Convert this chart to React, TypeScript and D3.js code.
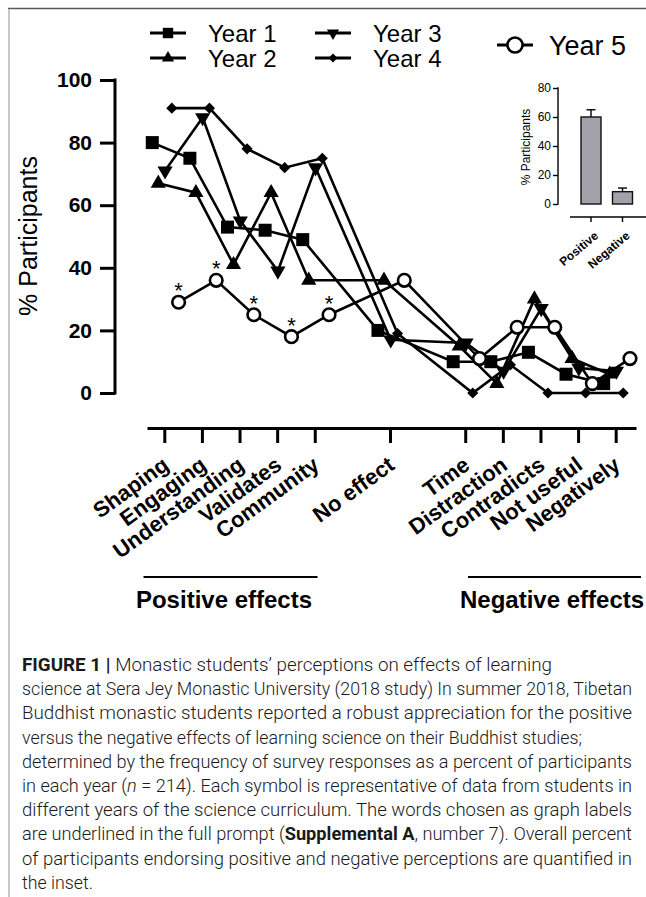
import { useRef, useEffect } from "react"
import * as d3 from "d3"

// x slots of the main chart, null = empty gap on the axis
const slots = ["Shaping", "Engaging", "Understanding", "Validates", "Community", null, "No effect", null, "Time", "Distraction", "Contradicts", "Not useful", "Negatively"]
const categories = slots.filter((s) => s !== null) as string[]
const starred = ["Shaping", "Engaging", "Understanding", "Validates", "Community"]

// % participants per category, one array per year
const year1 = [80, 75, 53, 52, 49, 20, 10, 10, 13, 6, 3]
const year2 = [67, 64, 41, 64, 36, 36, 15, 3, 30, 11, 6]
const year3 = [71, 88, 55, 39, 72, 17, 16, 7, 27, 8, 7]
const year4 = [91, 91, 78, 72, 75, 19, 0, 9, 0, 0, 0]
const year5 = [29, 36, 25, 18, 25, 36, 11, 21, 21, 3, 11]

const yTicks = [0, 20, 40, 60, 80, 100]

// inset
const insetCats = ["Positive", "Negative"]
const insetMeans = [60, 8.5]
const insetErrors = [5, 2.5]
const insetTicks = [0, 20, 40, 60, 80]

const caption = [
  [{ t: "FIGURE 1 | ", b: true }, { t: "Monastic students’ perceptions on effects of learning" }],
  [{ t: "science at Sera Jey Monastic University (2018 study) In summer 2018, Tibetan" }],
  [{ t: "Buddhist monastic students reported a robust appreciation for the positive" }],
  [{ t: "versus the negative effects of learning science on their Buddhist studies;" }],
  [{ t: "determined by the frequency of survey responses as a percent of participants" }],
  [{ t: "in each year (" }, { t: "n", i: true }, { t: " = 214). Each symbol is representative of data from students in" }],
  [{ t: "different years of the science curriculum. The words chosen as graph labels" }],
  [{ t: "are underlined in the full prompt (" }, { t: "Supplemental A", b: true }, { t: ", number 7). Overall percent" }],
  [{ t: "of participants endorsing positive and negative perceptions are quantified in" }],
  [{ t: "the inset." }],
]
const captionWidths = [530, 610, 610, 560, 610, 610, 610, 610, 610, 71]

const FONT = "'Liberation Sans', Arial, Helvetica, sans-serif"

export default function App() {
  const svgRef = useRef<SVGSVGElement>(null)

  useEffect(() => {
    if (!svgRef.current) return
    const svg = d3.select(svgRef.current)
    svg.selectAll("*").remove()

    const series = [
      { name: "Year 1", values: year1, kind: "square", off: -0.32 },
      { name: "Year 2", values: year2, kind: "up", off: -0.16 },
      { name: "Year 3", values: year3, kind: "down", off: 0.02 },
      { name: "Year 4", values: year4, kind: "diamond", off: 0.2 },
      { name: "Year 5", values: year5, kind: "circle", off: 0.38 },
    ]

    const slotOf = categories.map((c) => slots.indexOf(c))
    const x = d3.scaleLinear().domain([-0.46, 12.54]).range([147, 636])
    const y = d3.scaleLinear().domain([0, 100]).range([393, 80])

    // frame of the figure
    svg.append("line").attr("x1", 8).attr("x2", 646).attr("y1", 8.5).attr("y2", 8.5).attr("stroke", "#5a5a5a").attr("stroke-width", 1.5)
    svg.append("line").attr("x1", 9).attr("x2", 9).attr("y1", 9).attr("y2", 897).attr("stroke", "#b4b4b4").attr("stroke-width", 1.5)

    // marker drawing
    function drawMarker(g: any, kind: string, cx: number, cy: number, k = 1) {
      if (kind === "circle") {
        g.append("circle").attr("cx", cx).attr("cy", cy).attr("r", 6.3 * k)
          .attr("fill", "white").attr("stroke", "black").attr("stroke-width", 2.6)
        return
      }
      let type: any = d3.symbolSquare
      let size = 169
      let rot = 0
      if (kind === "up") { type = d3.symbolTriangle; size = 100 }
      if (kind === "down") { type = d3.symbolTriangle; size = 100; rot = 180 }
      if (kind === "diamond") { type = d3.symbolSquare; size = 62; rot = 45 }
      g.append("path")
        .attr("d", d3.symbol().type(type).size(size * k * k)())
        .attr("transform", `translate(${cx},${cy}) rotate(${rot})`)
        .attr("fill", "black")
    }

    // y axis
    const yAxis = svg.append("g").attr("transform", "translate(115,0)")
      .call(d3.axisLeft(y).tickValues(yTicks).tickSize(15).tickSizeOuter(0).tickPadding(8))
    yAxis.select(".domain").attr("stroke-width", 3).attr("d", `M0,${y(100) - 1.5}V${y(0) + 1.5}`)
    yAxis.selectAll(".tick line").attr("stroke-width", 3)
    yAxis.selectAll(".tick text").attr("font-family", FONT).attr("font-weight", "bold").attr("font-size", 21).attr("fill", "black")

    svg.append("text")
      .attr("transform", `translate(37, 236) rotate(-90)`)
      .attr("text-anchor", "middle")
      .attr("font-family", FONT).attr("font-size", 25)
      .text("% Participants")

    // x axis (offset below the plot)
    const xAxis = svg.append("g").attr("transform", "translate(0,428)")
      .call(d3.axisBottom(x).tickValues(slotOf).tickSize(15).tickSizeOuter(0).tickFormat(() => ""))
    xAxis.select(".domain").attr("stroke-width", 3)
    xAxis.selectAll(".tick line").attr("stroke-width", 3)

    categories.forEach((c, i) => {
      svg.append("text")
        .attr("transform", `translate(${x(slotOf[i]) + 6}, 468) rotate(-36)`)
        .attr("text-anchor", "end")
        .attr("font-family", FONT).attr("font-weight", "bold").attr("font-size", 22)
        .text(c)
    })

    // group labels
    const groups = [
      { label: "Positive effects", x1: 143.5, x2: 317.5, tx: 224, anchor: "middle" },
      { label: "Negative effects", x1: 468, x2: 641, tx: 460, anchor: "start" },
    ]
    groups.forEach((gr) => {
      svg.append("line").attr("x1", gr.x1).attr("x2", gr.x2).attr("y1", 577).attr("y2", 577).attr("stroke", "black").attr("stroke-width", 2)
      svg.append("text").attr("x", gr.tx).attr("y", 608).attr("text-anchor", gr.anchor)
        .attr("font-family", FONT).attr("font-weight", "bold").attr("font-size", 24)
        .text(gr.label)
    })

    // series
    const plot = svg.append("g")
    series.forEach((s) => {
      const line = d3.line<number>()
        .x((_, i) => x(slotOf[i] + s.off))
        .y((d) => y(d))
      plot.append("path").attr("d", line(s.values)).attr("fill", "none").attr("stroke", "black").attr("stroke-width", 2.6).attr("stroke-linejoin", "miter")
    })
    series.forEach((s) => {
      s.values.forEach((v, i) => drawMarker(plot, s.kind, x(slotOf[i] + s.off), y(v)))
    })
    const y5 = series[4]
    starred.forEach((c) => {
      const i = categories.indexOf(c)
      plot.append("text")
        .attr("x", x(slotOf[i] + y5.off)).attr("y", y(y5.values[i]) - 4)
        .attr("text-anchor", "middle")
        .attr("font-family", FONT).attr("font-size", 22)
        .text("*")
    })

    // legend
    const legendPos = [
      { lx: 150, ly: 33, tx: 208, ty: 42, fs: 24 },
      { lx: 150, ly: 58, tx: 208, ty: 67, fs: 24 },
      { lx: 315, ly: 33, tx: 373, ty: 42, fs: 24 },
      { lx: 315, ly: 58, tx: 373, ty: 67, fs: 24 },
      { lx: 497, ly: 45, tx: 549, ty: 55, fs: 27 },
    ]
    series.forEach((s, i) => {
      const p = legendPos[i]
      svg.append("line").attr("x1", p.lx).attr("x2", p.lx + 36).attr("y1", p.ly).attr("y2", p.ly).attr("stroke", "black").attr("stroke-width", 3)
      drawMarker(svg, s.kind, p.lx + 18, p.ly, s.kind === "circle" ? 1.2 : 0.8)
      svg.append("text").attr("x", p.tx).attr("y", p.ty)
        .attr("font-family", FONT).attr("font-size", p.fs)
        .text(s.name)
    })

    // inset bar chart
    const iy = d3.scaleLinear().domain([0, 80]).range([204, 88])
    const ix = d3.scalePoint<string>().domain(insetCats).range([591, 622.5])
    const inset = svg.append("g")
    const iyAxis = inset.append("g").attr("transform", "translate(558,0)")
      .call(d3.axisLeft(iy).tickValues(insetTicks).tickSize(5).tickSizeOuter(0).tickPadding(2))
    iyAxis.select(".domain").attr("stroke-width", 1.4).attr("d", `M0,${iy(80) - 0.7}V${iy(0) + 0.7}`)
    iyAxis.selectAll(".tick line").attr("stroke-width", 1.4)
    iyAxis.selectAll(".tick text").attr("font-family", FONT).attr("font-size", 12).attr("fill", "black")
    inset.append("text")
      .attr("transform", `translate(530, 147) rotate(-90)`)
      .attr("text-anchor", "middle")
      .attr("font-family", FONT).attr("font-size", 12)
      .text("% Participants")

    insetCats.forEach((c, i) => {
      const cx = ix(c) as number
      const top = iy(insetMeans[i])
      const errTop = iy(insetMeans[i] + insetErrors[i])
      inset.append("line").attr("x1", cx).attr("x2", cx).attr("y1", top).attr("y2", errTop).attr("stroke", "black").attr("stroke-width", 1.4)
      inset.append("line").attr("x1", cx - 4.5).attr("x2", cx + 4.5).attr("y1", errTop).attr("y2", errTop).attr("stroke", "black").attr("stroke-width", 1.4)
      inset.append("rect").attr("x", cx - 10).attr("width", 20).attr("y", top).attr("height", iy(0) - top)
        .attr("fill", "#a2a2aa").attr("stroke", "#111").attr("stroke-width", 1.4)
      inset.append("line").attr("x1", cx).attr("x2", cx).attr("y1", 217).attr("y2", 222).attr("stroke", "black").attr("stroke-width", 1.4)
      inset.append("text")
        .attr("transform", `translate(${cx + 8}, 237) rotate(-40)`)
        .attr("text-anchor", "end")
        .attr("font-family", FONT).attr("font-weight", "bold").attr("font-size", 12)
        .text(c)
    })
    inset.append("line").attr("x1", 570).attr("x2", 646).attr("y1", 217).attr("y2", 217).attr("stroke", "black").attr("stroke-width", 1.4)

    // caption, each line fitted to the justified width of the reference
    caption.forEach((segs, i) => {
      const t = svg.append("text")
        .attr("x", 22).attr("y", 671 + i * 24.2)
        .attr("font-family", "Roboto, 'Liberation Sans', sans-serif")
        .attr("font-weight", 300)
        .attr("font-size", 17.5)
        .attr("fill", "#1a1a1a")
        .attr("textLength", captionWidths[i])
        .attr("lengthAdjust", "spacingAndGlyphs")
      segs.forEach((sg: any) => {
        t.append("tspan")
          .attr("font-weight", sg.b ? 700 : null)
          .attr("font-style", sg.i ? "italic" : null)
          .text(sg.t)
      })
    })
  }, [])

  return (
    <svg
      ref={svgRef}
      width={646}
      height={897}
      style={{ position: "absolute", left: 0, top: 0, background: "white" }}
    />
  )
}
